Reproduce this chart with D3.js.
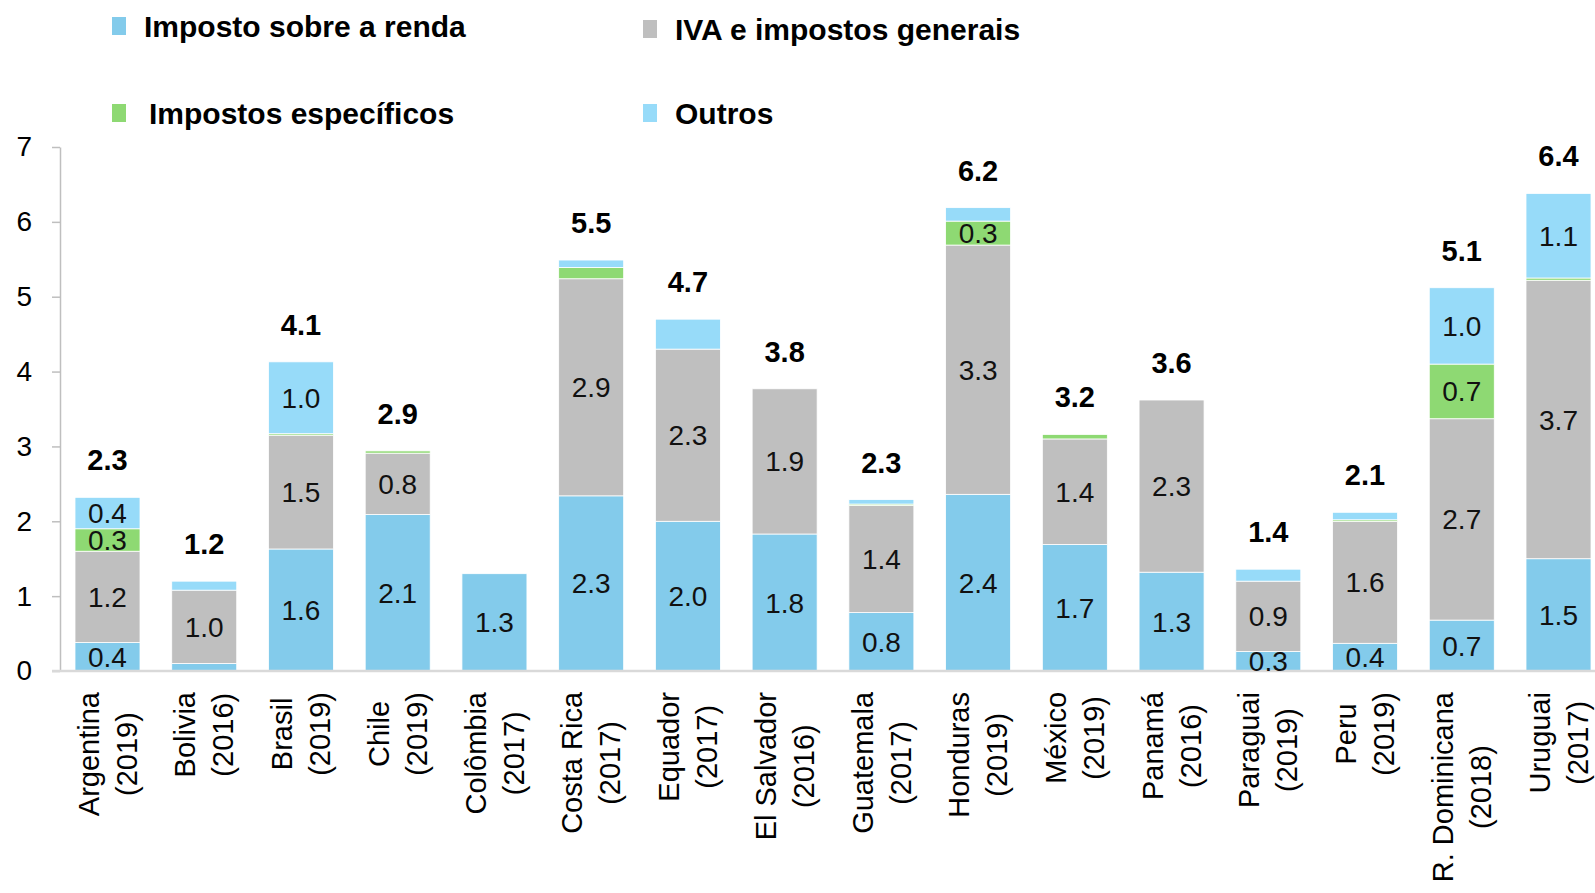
<!DOCTYPE html>
<html>
<head>
<meta charset="utf-8">
<script src="https://cdn.jsdelivr.net/npm/d3@7"></script>
<style>
  body { margin: 0; background: #fff; }
  svg { display: block; font-family: "Liberation Sans", Arial, sans-serif; }
</style>
</head>
<body>
<div id="chart"></div>
<script>
var countries = ['Argentina|(2019)', 'Bolivia|(2016)', 'Brasil|(2019)', 'Chile|(2019)', 'Colômbia|(2017)',
  'Costa Rica|(2017)', 'Equador|(2017)', 'El Salvador|(2016)', 'Guatemala|(2017)', 'Honduras|(2019)',
  'México|(2019)', 'Panamá|(2016)', 'Paraguai|(2019)', 'Peru|(2019)', 'R. Dominicana|(2018)', 'Uruguai|(2017)']

var renda      = [0.38, 0.10, 1.63, 2.09, 1.30, 2.34, 2.00, 1.83, 0.78, 2.36, 1.69, 1.32, 0.26, 0.37, 0.68, 1.50]
var iva        = [1.22, 0.98, 1.52, 0.82, 0,    2.90, 2.30, 1.94, 1.43, 3.33, 1.41, 2.30, 0.94, 1.63, 2.69, 3.72]
var especificos= [0.30, 0,    0.02, 0.03, 0,    0.15, 0,    0,    0.02, 0.32, 0.06, 0,    0,    0.02, 0.73, 0.03]
var outros     = [0.42, 0.12, 0.96, 0,    0,    0.10, 0.40, 0,    0.06, 0.18, 0,    0,    0.16, 0.10, 1.02, 1.13]
var totals     = [2.3, 1.2, 4.1, 2.9, null, 5.5, 4.7, 3.8, 2.3, 6.2, 3.2, 3.6, 1.4, 2.1, 5.1, 6.4]

var seriesNames = ['Imposto sobre a renda', 'IVA e impostos generais', 'Impostos específicos', 'Outros']
var colors = ['#83CBEB', '#BFBFBF', '#8ED973', '#97DBF9']
var yTicks = [0, 1, 2, 3, 4, 5, 6, 7]
// segment labels that were removed in the original
var hiddenLabels = ['Equador|(2017)/3']

var width = 1595, height = 893
var svg = d3.select('#chart').append('svg').attr('width', width).attr('height', height)

var keys = ['renda', 'iva', 'esp', 'outros']
var rows = countries.map((c, i) => ({country: c, renda: renda[i], iva: iva[i], esp: especificos[i], outros: outros[i], total: totals[i]}))
var stack = d3.stack().keys(keys)(rows)

var x = d3.scaleBand().domain(countries).range([60, 1606]).paddingInner(0.328).paddingOuter(0.155)
var y = d3.scaleLinear().domain([0, 7]).range([671, 147])

// axes
var yAxis = svg.append('g').attr('transform', 'translate(60,0)')
  .call(d3.axisLeft(y).tickValues(yTicks).tickFormat(d3.format('d')).tickSize(8).tickSizeOuter(0).tickPadding(20))
yAxis.select('.domain').attr('stroke', '#BFBFBF').attr('stroke-width', 1.5)
yAxis.selectAll('.tick line').attr('stroke', '#BFBFBF').attr('stroke-width', 1.5)
yAxis.selectAll('.tick text').attr('font-size', 28).attr('fill', '#000')
  .attr('font-family', '"Liberation Sans", Arial, sans-serif')

// bars
svg.append('g').selectAll('g').data(stack).join('g')
  .attr('fill', (d, i) => colors[i])
  .selectAll('rect').data(d => d).join('rect')
  .attr('x', d => x(d.data.country))
  .attr('width', x.bandwidth())
  .attr('y', d => y(d[1]))
  .attr('height', d => y(d[0]) - y(d[1]))
  .attr('stroke', '#fff').attr('stroke-width', 0.8)

svg.append('line')
  .attr('x1', 52).attr('x2', width).attr('y1', y(0)).attr('y2', y(0))
  .attr('stroke', '#D9D9D9').attr('stroke-width', 2.5)

// segment labels
stack.forEach((s, si) => {
  svg.append('g').selectAll('text')
    .data(s.filter(d => (d[1] - d[0]) >= 0.25 && !hiddenLabels.includes(d.data.country + '/' + si)))
    .join('text')
    .attr('x', d => x(d.data.country) + x.bandwidth() / 2)
    .attr('y', d => y((d[0] + d[1]) / 2))
    .attr('dy', '0.36em')
    .attr('text-anchor', 'middle')
    .attr('font-size', 28)
    .attr('fill', '#111')
    .text(d => (d[1] - d[0]).toFixed(1))
})

// totals
svg.append('g').selectAll('text').data(rows.filter(d => d.total != null)).join('text')
  .attr('x', d => x(d.country) + x.bandwidth() / 2)
  .attr('y', d => y(d.renda + d.iva + d.esp + d.outros) - 27)
  .attr('text-anchor', 'middle')
  .attr('font-size', 29).attr('font-weight', 'bold')
  .attr('fill', '#000')
  .text(d => d.total.toFixed(1))

// category labels, rotated
var labelTop = 692
svg.append('g').selectAll('g').data(countries).join('g')
  .each(function(c) {
    var g = d3.select(this)
    var lines = c.split('|')
    var t = g.selectAll('text').data(lines).join('text')
      .attr('x', 0)
      .attr('y', (d, i) => (i - 0.5) * 38)
      .attr('dy', '0.35em')
      .attr('text-anchor', 'middle')
      .attr('font-size', 29)
      .attr('fill', '#000')
      .text(d => d)
    var maxW = d3.max(t.nodes(), n => n.getComputedTextLength())
    g.attr('transform', `translate(${x(c) + x.bandwidth() / 2},${labelTop + maxW / 2}) rotate(-90)`)
  })

// legend
var legend = [
  {name: seriesNames[0], color: colors[0], x: 112, y: 26},
  {name: seriesNames[1], color: colors[1], x: 643, y: 29},
  {name: seriesNames[2], color: colors[2], x: 112, y: 113},
  {name: seriesNames[3], color: colors[3], x: 643, y: 113},
]
var lg = svg.append('g').selectAll('g').data(legend).join('g')
  .attr('transform', d => `translate(${d.x},${d.y})`)
lg.append('rect').attr('x', 0).attr('y', -9).attr('width', 14).attr('height', 18).attr('fill', d => d.color)
lg.append('text')
  .attr('x', (d, i) => i % 2 == 0 && i > 0 ? 37 : 32)
  .attr('dy', '0.36em')
  .attr('font-size', 30).attr('font-weight', 'bold')
  .attr('fill', '#000')
  .text(d => d.name)
</script>
</body>
</html>
